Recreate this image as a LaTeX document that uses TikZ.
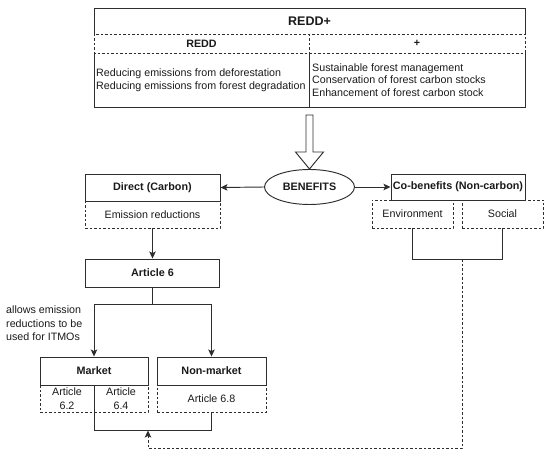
\documentclass[tikz,border=0pt]{standalone}
\usepackage{fontspec}
\setmainfont{Liberation Sans}
\usetikzlibrary{arrows.meta,shapes.geometric}
\definecolor{ln}{HTML}{2E2E2E}
\definecolor{tx}{HTML}{1A1A1A}
\tikzset{
  every node/.style={text=tx, inner sep=0pt, font=\fontsize{10.7}{13.5}\selectfont},
  ln/.style={draw=ln, line width=0.95pt},
  dsh/.style={draw=ln, line width=0.95pt, dash pattern=on 2.5pt off 2pt},
  boxb/.style={ln, rectangle, font=\fontsize{10.8}{13}\selectfont\bfseries},
  boxd/.style={dsh, rectangle, align=center},
  arr/.style={ln, -{Stealth[length=7pt,width=6.5pt,inset=1.5pt]}},
  darr/.style={dsh, -{Stealth[length=7pt,width=6.5pt,inset=1.5pt]}},
}
\begin{document}
\begin{tikzpicture}[x=1pt,y=-1pt]
\useasboundingbox (0,0) rectangle (550,460);
% ---- top table ----
\node[font=\fontsize{12.5}{15}\selectfont\bfseries] (title) at (309.5,21) {REDD+};
\node[font=\fontsize{10.7}{13}\selectfont\bfseries] (hredd) at (201.5,43.5) {REDD};
\node[font=\fontsize{10.7}{13}\selectfont\bfseries] (hplus) at (417,43.5) {+};
\node[anchor=west, align=left] (credd) at (96,80) {Reducing emissions from deforestation\\Reducing emissions from forest degradation};
\node[anchor=west, align=left, font=\fontsize{10.7}{12.7}\selectfont] (cplus) at (312,80) {Sustainable forest management\\Conservation of forest carbon stocks\\Enhancement of forest carbon stock};
\draw[ln] (94,34) -- (94,8) -- (525,8) -- (525,34);
\draw[dsh] (94,34) rectangle (525,53);
\draw[dsh] (309,34) -- (309,53);
\draw[ln] (94,53) -- (94,107) -- (525,107) -- (525,53);
\draw[ln] (309,53) -- (309,107);
% ---- hollow arrow ----
\draw[ln, fill=white] (306,115) -- (313,115) -- (313,152) -- (323.5,152) -- (309.5,169) -- (295.5,152) -- (306,152) -- cycle;
% ---- benefits ----
\node[ellipse, ln, minimum width=90pt, minimum height=35pt, font=\fontsize{10.8}{13}\selectfont\bfseries] (ben) at (309.5,187) {BENEFITS};
\node[boxb, minimum width=135pt, minimum height=27pt] (direct) at (152.5,187.5) {Direct (Carbon)};
\node[boxd, minimum width=135pt, minimum height=27pt] (emis) at (152.5,214.5) {Emission reductions};
\node[boxb, minimum width=134pt, minimum height=26pt] (cob) at (458,187) {Co-benefits (Non-carbon)};
\node[boxd, minimum width=81pt, minimum height=28pt] (env) at (412.5,214) {Environment};
\node[boxd, minimum width=81pt, minimum height=28pt] (soc) at (502.5,214) {Social};
\draw[arr] (ben.west) -- (direct.east);
\draw[arr] (ben.east) -- (cob.west);
% ---- article 6 ----
\node[boxb, minimum width=134pt, minimum height=28pt] (art6) at (152.5,273) {Article 6};
\draw[arr] (emis.south) -- (art6.north);
\node[boxb, minimum width=108pt, minimum height=28pt] (market) at (94,371) {Market};
\node[boxd, minimum width=54pt, minimum height=27pt, font=\fontsize{10.7}{14}\selectfont] (a62) at (67,398.5) {Article\\6.2};
\node[boxd, minimum width=54pt, minimum height=27pt, font=\fontsize{10.7}{14}\selectfont] (a64) at (121,398.5) {Article\\6.4};
\node[boxb, minimum width=109pt, minimum height=28pt] (nonm) at (211.5,371) {Non-market};
\node[boxd, minimum width=109pt, minimum height=27pt] (a68) at (211.5,398.5) {Article 6.8};
\draw[arr] (art6.south) -- ++(0,17) -| (market.north);
\draw[arr] (art6.south) -- ++(0,17) -| (nonm.north);
\node[anchor=north west, align=left] (note) at (6,306) {allows emission\\reductions to be\\used for ITMOs};
% ---- brackets ----
\draw[ln] (a62.south east) -- ++(0,18) coordinate (mkjoin) -| (a68.south);
\draw[ln] (env.south) -- ++(0,31) -| (soc.south);
\coordinate (cojoin) at (462,259);
\coordinate (mkin) at (148,430.5);
\draw[darr] (cojoin) -- (462,448) -| (mkin);
\end{tikzpicture}
\end{document}
